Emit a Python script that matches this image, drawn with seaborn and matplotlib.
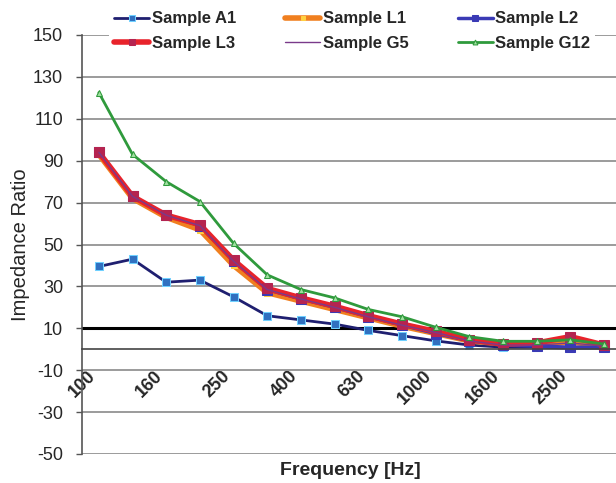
import numpy as np
import pandas as pd
import seaborn as sns
import matplotlib.pyplot as plt

# Data
freq = [100, 125, 160, 200, 250, 315, 400, 500, 630, 800, 1000, 1250, 1600, 2000, 2500, 3150]
a1 = [39.5, 43, 32, 33, 25, 16, 14, 12, 9, 6.5, 4, 2, 1, 1, 0.5, 0.5]
l1 = [93, 72, 63, 57, 40, 27, 23, 19, 15, 11, 7.5, 4, 2.5, 2.5, 3.5, 1.5]
l2 = [94, 73, 64, 59, 42, 28.5, 24, 20, 15.5, 11.5, 7.5, 4, 2, 1.5, 1, 1]
l3 = [94, 73, 64, 59.5, 42.5, 29, 24.5, 20.5, 16, 12, 8.5, 4.5, 2.5, 3, 6, 2]
g5 = [94, 73, 64, 59, 42, 28.5, 24, 20, 15.5, 11.5, 8, 4, 2, 2, 3, 1.5]
g12 = [122.5, 93, 80, 70.5, 50.5, 35.5, 28.5, 24.5, 19, 15.5, 10.5, 6, 3.8, 3.8, 4.5, 2.5]
threshold = 10
yticks = list(range(-50, 151, 20))

sns.set_style("white")
plt.rcParams["font.family"] = ["Liberation Sans", "DejaVu Sans"]

df = pd.DataFrame({"pos": np.arange(len(freq)), "A1": a1, "L1": l1, "L2": l2,
                   "L3": l3, "G5": g5, "G12": g12})

fig = plt.figure(figsize=(6.16, 4.83), dpi=100)
ax = fig.add_axes([82 / 616, 29 / 483, 539 / 616, 419 / 483])

styles = [
    ("A1", "Sample A1", dict(color="#1f1f70", lw=2, marker="s", ms=5.5,
                             mfc="#3070c0", mec="#6fd0ff")),
    ("L1", "Sample L1", dict(color="#f07f1f", lw=4, marker="s", ms=5,
                             mfc="#ffd040", mec="#ffd040")),
    ("L2", "Sample L2", dict(color="#3a3ab5", lw=2.5, marker="s", ms=6.5,
                             mfc="#3a3ab5", mec="#3a3ab5")),
    ("L3", "Sample L3", dict(color="#e8232b", lw=4, marker="s", ms=6.5,
                             mfc="#b52450", mec="#b52450")),
    ("G5", "Sample G5", dict(color="#7a3a8a", lw=1)),
    ("G12", "Sample G12", dict(color="#2f9a3c", lw=2, marker="^", ms=5,
                               mfc="#a0e0a0", mec="#2f9a3c")),
]
for col, label, kw in styles:
    sns.lineplot(data=df, x="pos", y=col, ax=ax, label=label, **kw)

ax.axhline(threshold, color="black", lw=2.2, zorder=1.5)

ax.set_xlim(-0.5, len(freq) - 0.5)
ax.set_ylim(-50, 150)
ax.set_yticks(yticks)
ax.set_yticklabels([str(v) for v in yticks])
ax.yaxis.grid(True, color="#8a8a8a", lw=1.2)
ax.xaxis.grid(False)
ax.set_axisbelow(True)

ax.spines["top"].set_visible(False)
ax.spines["right"].set_visible(False)
ax.spines["left"].set_color("#555555")
ax.spines["left"].set_linewidth(1.2)
ax.spines["bottom"].set_position(("data", 0))
ax.spines["bottom"].set_color("#444444")
ax.spines["bottom"].set_linewidth(1.2)

ax.set_xticks(np.arange(0, len(freq), 2))
ax.set_xticklabels([str(f) for f in freq[::2]], rotation=45, ha="right",
                   va="top", fontsize=13, fontweight="bold")
ax.set_xticks(np.arange(0.5, len(freq) - 0.5, 1), minor=True)
ax.tick_params(axis="x", which="major", length=0, pad=13)
ax.tick_params(axis="x", which="minor", length=4, width=1, color="#444444",
               direction="out")
ax.tick_params(axis="y", length=4, width=1, color="#555555", pad=9.5,
               labelsize=13, left=True)

ax.set_xlabel("Frequency [Hz]", fontsize=14, fontweight="bold")
ax.xaxis.set_label_coords(0.497, -0.018)
ax.set_ylabel("Impedance Ratio", fontsize=14.5)
ax.yaxis.set_label_coords(-0.0965, 0.5)

handles, labels = ax.get_legend_handles_labels()
order = [0, 3, 1, 4, 2, 5]
ax.legend([handles[i] for i in order], [labels[i] for i in order], ncol=3,
          loc="upper left", bbox_to_anchor=(101 / 616, 1.004),
          bbox_transform=fig.transFigure, prop={"size": 12, "weight": "bold"},
          handlelength=2.1, handletextpad=0.15, columnspacing=2.95,
          labelspacing=0.55, borderpad=0.3, markerscale=0.7, frameon=True,
          facecolor="white", edgecolor="none", framealpha=1, fancybox=False)

fig.savefig("out.png", dpi=100)
